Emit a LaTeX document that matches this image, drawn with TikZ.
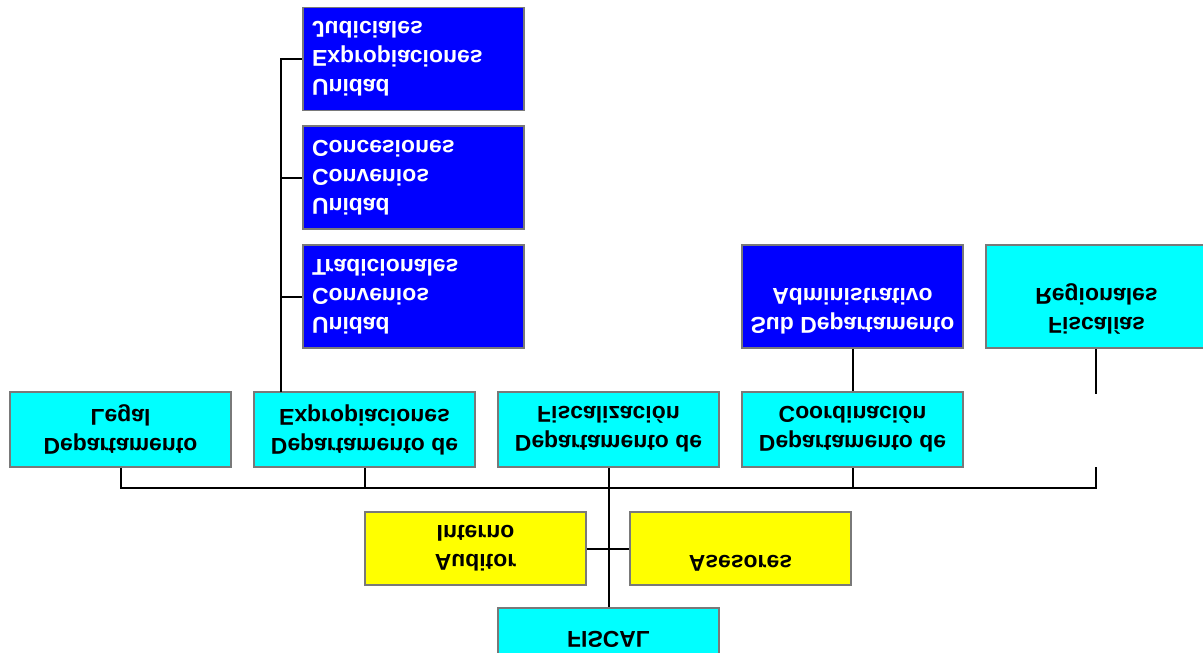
\documentclass[tikz,border=0pt]{standalone}
\usepackage{fontspec}
\setmainfont{Liberation Sans}
\begin{document}
\begin{tikzpicture}[x=1pt,y=-1pt,
  box/.style={draw=gray!95!black, line width=1.8pt, minimum width=221pt, align=center,
    font=\fontsize{22.9}{29}\selectfont\bfseries, inner sep=0pt, yscale=-1},
  tall/.style={box, minimum height=103pt},
  lefttext/.style={align=left, text width=203pt, inner xsep=9pt},
  mid/.style={box, minimum height=75pt},
  short/.style={box, minimum height=73pt},
  bluebox/.style={fill={rgb,255:red,0;green,0;blue,255}, text=white},
  cyanbox/.style={fill={rgb,255:red,0;green,255;blue,255}, text=black},
  yellowbox/.style={fill={rgb,255:red,255;green,255;blue,0}, text=black},
  conn/.style={draw=black, line width=2pt}]
\useasboundingbox (0,0) rectangle (1203,653);
\clip (0,0) rectangle (1203,653);
% top (blue) boxes
\node[tall,bluebox,lefttext] (uej) at (413.5,59) {Unidad\\Expropiaciones\\Judiciales};
\node[tall,bluebox,lefttext] (ucc) at (413.5,177.5) {Unidad\\Convenios\\Concesiones};
\node[tall,bluebox,lefttext] (uct) at (413.5,296.5) {Unidad\\Convenios\\Tradicionales};
\node[tall,bluebox] (sda) at (852.5,296.5) {Sub Departamento\\Administrativo\\~};
\node[tall,cyanbox] (fr) at (1096.5,296.5) {Fiscalías\\Regionales\\~};
% departments
\node[mid,cyanbox] (dl) at (120.5,429.5) {Departamento\\Legal};
\node[mid,cyanbox] (de) at (364.5,429.5) {Departamento de\\Expropiaciones};
\node[mid,cyanbox] (df) at (608.5,429.5) {Departamento de\\Fiscalización};
\node[mid,cyanbox] (dc) at (852.5,429.5) {Departamento de\\Coordinación};
\coordinate (frb) at (1096,394);
\coordinate (frd) at (1096,467);
% staff
\node[short,yellowbox] (ai) at (475.5,548.5) {Auditor\\Interno};
\node[short,yellowbox] (as) at (740.5,548.5) {Asesores\\~};
% root
\node[box,cyanbox,minimum height=75pt] (fi) at (608.5,645.5) {~\\FISCAL};
% connectors
\coordinate (bar) at (608,488);
\draw[conn] (dl.north) |- (bar) -| (frd);
\draw[conn] (de.north) -- ++(0,21);
\draw[conn] (dc.north) -- ++(0,21);
\draw[conn] (df.north) -- (fi.south);
\draw[conn] (ai.east) -- (as.west);
\draw[conn] (sda.north) -- (dc.south);
\draw[conn] (fr.north -| frb) -- (frb);
\coordinate (tr) at (281,392);
\draw[conn] (tr) |- (uej.west);
\draw[conn] (tr |- ucc.west) -- (ucc.west);
\draw[conn] (tr |- uct.west) -- (uct.west);
\end{tikzpicture}
\end{document}
